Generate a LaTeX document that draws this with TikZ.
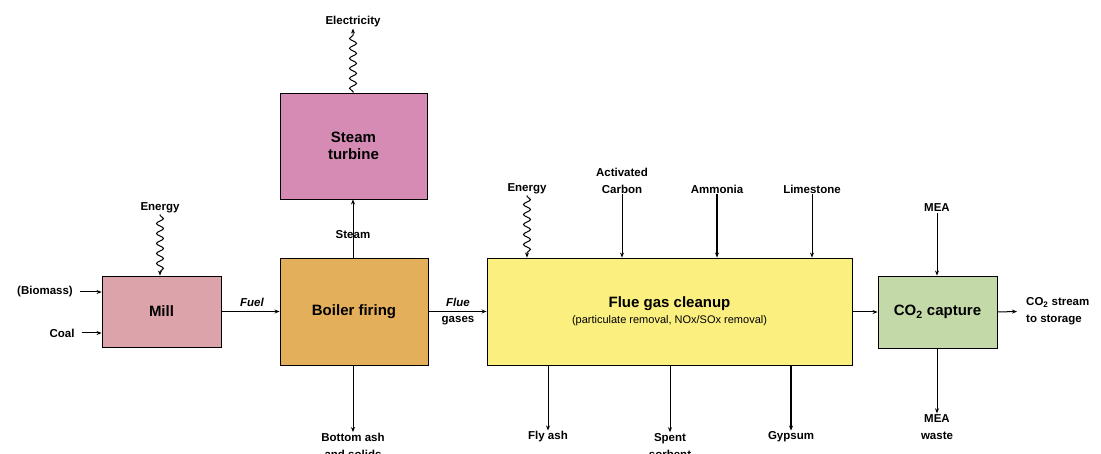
\documentclass[tikz,border=0pt]{standalone}
\usepackage{fontspec}
\setmainfont{Liberation Sans}
\usetikzlibrary{decorations.pathmorphing,arrows.meta}
\definecolor{millc}{HTML}{DDA3AA}
\definecolor{boilc}{HTML}{E4AF5B}
\definecolor{turbc}{HTML}{D58BB4}
\definecolor{cleanc}{HTML}{FBEF80}
\definecolor{co2c}{HTML}{C3D9A8}
\tikzset{
  box/.style={draw=black, line width=0.9pt, inner sep=0pt, align=center,
    font=\fontsize{15}{17}\selectfont\bfseries},
  lbl/.style={inner sep=1pt, align=center, font=\fontsize{11.5}{17}\selectfont\bfseries},
  arr/.style={line width=1pt, -{Stealth[length=5pt,width=4pt]}},
  wavy/.style={line width=1pt, -{Stealth[length=5pt,width=4pt]},
    decorate, decoration={snake, segment length=10pt, amplitude=3.5pt, pre length=1pt, post length=3pt}}
}
\begin{document}
\begin{tikzpicture}[x=1pt,y=-1pt]
\useasboundingbox (0,0) rectangle (1101,454);
\fill[white] (0,0) rectangle (1101,454);
\clip (0,0) rectangle (1101,454);
% boxes
\node[box, fill=millc, minimum width=119pt, minimum height=71pt] (mill) at (161.5,311.5) {Mill};
\node[box, fill=boilc, minimum width=148pt, minimum height=107pt] (boil) at (354,311.5) {Boiler firing};
\node[box, fill=turbc, minimum width=147pt, minimum height=106pt] (turb) at (353.5,146) {Steam\\turbine};
\node[box, fill=cleanc, minimum width=365pt, minimum height=107pt] (clean) at (669.5,311.5) {};
\node[box, fill=co2c, minimum width=119pt, minimum height=72pt] (co2) at (937.5,312) {CO\textsubscript{2} capture};
\node[font=\fontsize{15}{17}\selectfont\bfseries, inner sep=0pt] (cleant) at (669.5,304) {Flue gas cleanup};
\node[font=\fontsize{11}{13}\selectfont, inner sep=0pt] (cleans) at (669.5,320.5) {(particulate removal, NOx/SOx removal)};
% labels
\node[lbl] (en1) at (160,208) {Energy};
\node[lbl] (bio) at (45,292) {(Biomass)};
\node[lbl] (coal) at (62,333) {Coal};
\node[lbl, font=\fontsize{11.5}{13}\selectfont\bfseries\itshape] (fuel) at (252,302) {Fuel};
\node[lbl] (steam) at (353,235) {Steam};
\node[lbl] (elec) at (353,22) {Electricity};
\node[lbl] (bash) at (353,446) {Bottom ash\\and solids};
\node[lbl, font=\fontsize{11.5}{13}\selectfont\bfseries\itshape] (flue) at (458,302) {Flue};
\node[lbl] (gases) at (458,321) {gases};
\node[lbl] (en2) at (527,189) {Energy};
\node[lbl] (ac) at (622,180.5) {Activated\\Carbon};
\node[lbl] (amm) at (717,189) {Ammonia};
\node[lbl] (lime) at (812,189) {Limestone};
\node[lbl] (fly) at (548,437) {Fly ash};
\node[lbl] (spent) at (670,446) {Spent\\sorbent};
\node[lbl] (gyp) at (791,437) {Gypsum};
\node[lbl] (mea) at (937,208) {MEA};
\node[lbl, align=left, anchor=west] (co2s) at (1025,311.5) {CO\textsubscript{2} stream\\to storage};
\node[lbl] (meaw) at (937,427) {MEA\\waste};
% connectors
\draw[arr] ([xshift=6pt]bio.east) -- (bio.east -| mill.west);
\draw[arr] ([xshift=6pt]coal.east) -- (coal.east -| mill.west);
\draw[wavy] (en1.south) -- (en1.south |- mill.north);
\draw[arr] (mill.east) -- (boil.west);
\draw[arr] (boil.north -| steam) -- (turb.south -| steam);
\draw[wavy] (turb.north -| elec) -- (elec.south);
\draw[arr] (boil.south -| bash) -- (bash.north);
\draw[arr] (boil.east) -- (clean.west);
\draw[wavy] (en2.south) -- (en2.south |- clean.north);
\draw[arr] (ac.south) -- (ac.south |- clean.north);
\draw[arr, line width=1.6pt] (amm.south) -- (amm.south |- clean.north);
\draw[arr] (lime.south) -- (lime.south |- clean.north);
\draw[arr] (clean.south -| fly) -- (fly.north);
\draw[arr] (clean.south -| spent) -- (spent.north);
\draw[arr, line width=1.6pt] (clean.south -| gyp) -- (gyp.north);
\draw[arr] (clean.east |- co2.west) -- (co2.west);
\draw[arr] (mea.south) -- (mea.south |- co2.north);
\draw[arr] (co2.east) -- ([xshift=-8pt]co2s.west);
\draw[arr] (co2.south -| meaw) -- (meaw.north);
\end{tikzpicture}
\end{document}
